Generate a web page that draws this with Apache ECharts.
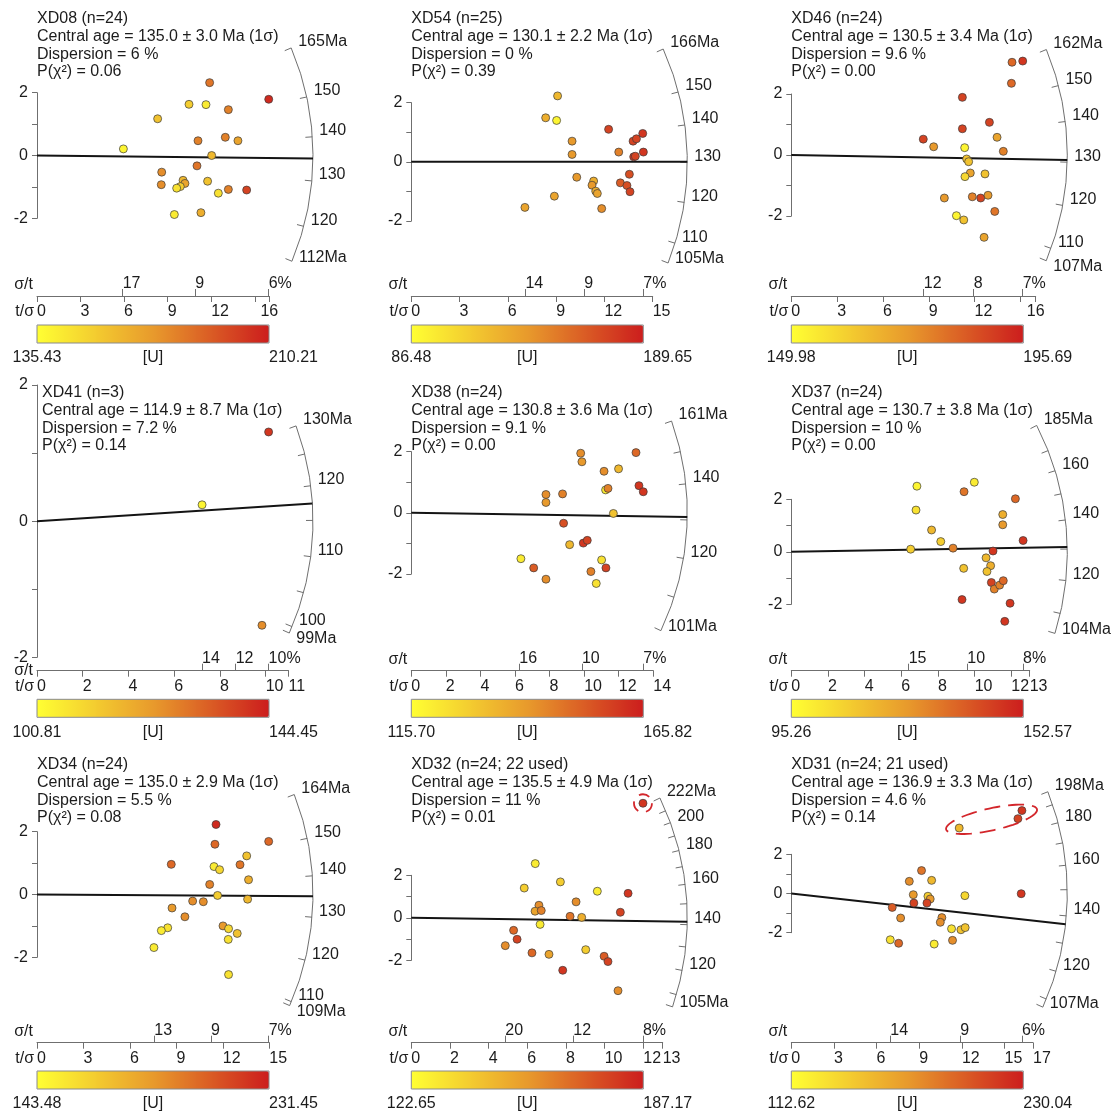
<!DOCTYPE html>
<html>
<head>
<meta charset="utf-8">
<title>Radial plots</title>
<script src="https://cdn.jsdelivr.net/npm/echarts@6.0.0/dist/echarts.min.js"></script>
<style>
  html, body { margin: 0; padding: 0; background: #fff; }
  #chart { width: 1113px; height: 1114px; }
</style>
</head>
<body>
<div id="chart"></div>
<script>
// samples in reading order (left to right, top to bottom)
const samples = ['XD08 (n=24)', 'XD54 (n=25)', 'XD46 (n=24)', 'XD41 (n=3)', 'XD38 (n=24)',
  'XD37 (n=24)', 'XD34 (n=24)', 'XD32 (n=24; 22 used)', 'XD31 (n=24; 21 used)'];
const centralAge = ['135.0', '130.1', '130.5', '114.9', '130.8', '130.7', '135.0', '135.5', '136.9'];
const centralErr = ['3.0', '2.2', '3.4', '8.7', '3.6', '3.8', '2.9', '4.9', '3.3'];
const dispersion = ['6', '0', '9.6', '7.2', '9.1', '10', '5.5', '11', '4.6'];
const pChi2 = ['0.06', '0.39', '0.00', '0.14', '0.00', '0.00', '0.08', '0.01', '0.14'];
const uMin = [135.43, 86.48, 149.98, 100.81, 115.70, 95.26, 143.48, 122.65, 112.62];
const uMax = [210.21, 189.65, 195.69, 144.45, 165.82, 152.57, 231.45, 187.17, 230.04];

// age arc (Ma)
const refAge = [135.68, 130.1, 131.7, 114.9, 131.9, 129.1, 135.4, 143.2, 148.5]; // age at z = 0
const lineAge = [135.0, 130.1, 130.5, 117.4, 130.8, 130.7, 135.0, 141.4, 136.9];
const arcMin = [112, 105, 107, 99, 101, 104, 109, 105, 107];
const arcMax = [165, 166, 162, 130, 161, 185, 164, 222, 198];
const arcTicks = [
  [120, 130, 140, 150],
  [110, 120, 130, 140, 150],
  [110, 120, 130, 140, 150],
  [100, 105, 110, 115, 120, 125],
  [110, 120, 130, 140, 150],
  [110, 120, 130, 140, 150, 160, 170],
  [110, 120, 130, 140, 150],
  [110, 120, 130, 140, 150, 160, 170, 180, 190, 200, 210],
  [110, 120, 130, 140, 150, 160, 170, 180, 190]
];
const arcLabels = [
  [120, 130, 140, 150],
  [110, 120, 130, 140, 150],
  [110, 120, 130, 140, 150],
  [100, 110, 120],
  [120, 140],
  [120, 140, 160],
  [110, 120, 130, 140, 150],
  [120, 140, 160, 180, 200],
  [120, 140, 160, 180]
];

// t/σ axis
const tsMax = [16, 15, 16, 11, 14, 13, 15, 13, 17];
const tsTicks = [
  [0, 3, 6, 9, 12, 15, 16], [0, 3, 6, 9, 12, 15], [0, 3, 6, 9, 12, 15, 16],
  [0, 2, 4, 6, 8, 10, 11], [0, 2, 4, 6, 8, 10, 12, 14], [0, 2, 4, 6, 8, 10, 12, 13],
  [0, 3, 6, 9, 12, 15], [0, 2, 4, 6, 8, 10, 12, 13], [0, 3, 6, 9, 12, 15, 17]
];
const tsLabels = [
  [0, 3, 6, 9, 12, 16], [0, 3, 6, 9, 12, 15], [0, 3, 6, 9, 12, 16],
  [0, 2, 4, 6, 8, 10, 11], [0, 2, 4, 6, 8, 10, 12, 14], [0, 2, 4, 6, 8, 10, 12, 13],
  [0, 3, 6, 9, 12, 15], [0, 2, 4, 6, 8, 10, 12, 13], [0, 3, 6, 9, 12, 15, 17]
];
// σ/t axis: [t/σ position, σ/t label]; the last tick sits at the largest t/σ
const stTicks = [
  [[5.9, '17'], [10.9, '9']],
  [[7.09, '14'], [10.75, '9']],
  [[8.67, '12'], [11.94, '8']],
  [[7.22, '14'], [8.69, '12']],
  [[6.25, '16'], [9.87, '10']],
  [[6.4, '15'], [9.6, '10']],
  [[7.57, '13'], [11.23, '9']],
  [[4.86, '20'], [8.38, '12']],
  [[6.96, '14'], [11.88, '9']]
];

// grains: [t/σ, standardised estimate z, position on the [U] colour bar (0 = min, 1 = max)]
const xd08 = [
  [5.95, 0.21, 0.05], [8.31, 1.17, 0.3], [10.47, 1.63, 0.25], [11.64, 1.62, 0.1],
  [11.89, 2.32, 0.65], [13.18, 1.46, 0.6], [15.96, 1.79, 0.95], [11.09, 0.47, 0.6],
  [12.97, 0.58, 0.6], [13.84, 0.47, 0.45], [12.03, 0.0, 0.35], [11.02, -0.33, 0.65],
  [8.59, -0.53, 0.55], [8.56, -0.93, 0.55], [10.06, -0.79, 0.35], [10.19, -0.89, 0.45],
  [9.87, -0.99, 0.25], [9.62, -1.04, 0.15], [11.75, -0.82, 0.3], [12.49, -1.2, 0.15],
  [13.18, -1.08, 0.6], [14.44, -1.1, 0.85], [9.46, -1.88, 0.1], [11.29, -1.82, 0.4]
];
const xd54 = [
  [9.09, 2.23, 0.35], [8.35, 1.49, 0.4], [9.03, 1.4, 0.05], [9.99, 0.7, 0.5],
  [9.99, 0.25, 0.5], [12.26, 1.1, 0.85], [12.89, 0.33, 0.6], [13.78, 0.7, 0.85],
  [13.99, 0.78, 0.85], [14.38, 0.96, 0.9], [13.82, 0.17, 0.9], [13.92, 0.19, 0.85],
  [14.42, 0.33, 0.9], [10.28, -0.52, 0.5], [11.33, -0.65, 0.4], [11.23, -0.79, 0.5],
  [11.46, -0.99, 0.4], [11.56, -1.07, 0.45], [11.83, -1.58, 0.55], [8.89, -1.16, 0.45],
  [7.06, -1.54, 0.45], [12.99, -0.71, 0.75], [13.55, -0.42, 0.8], [13.4, -0.8, 0.8],
  [13.59, -1.01, 0.85]
];
const xd46 = [
  [14.45, 3.04, 0.7], [15.15, 3.08, 0.9], [14.41, 2.35, 0.7], [11.2, 1.89, 0.85],
  [11.2, 0.86, 0.85], [12.97, 1.07, 0.85], [8.64, 0.52, 0.85], [9.32, 0.27, 0.5],
  [11.35, 0.24, 0.05], [13.47, 0.58, 0.45], [13.88, 0.12, 0.6], [11.48, -0.13, 0.3],
  [11.61, -0.22, 0.3], [11.72, -0.59, 0.45], [11.37, -0.71, 0.2], [12.68, -0.62, 0.3],
  [10.02, -1.41, 0.5], [11.85, -1.37, 0.6], [12.4, -1.41, 0.85], [12.88, -1.32, 0.5],
  [13.32, -1.85, 0.65], [10.81, -1.99, 0.05], [11.29, -2.13, 0.3], [12.62, -2.7, 0.45]
];
const xd41 = [
  [10.13, 1.31, 0.9], [7.22, 0.24, 0.05], [9.84, -1.53, 0.55]
];
const xd38 = [
  [9.8, 1.95, 0.55], [9.87, 1.67, 0.5], [13.0, 1.97, 0.7], [11.15, 1.36, 0.55],
  [11.99, 1.44, 0.35], [7.79, 0.6, 0.55], [7.79, 0.34, 0.5], [8.75, 0.62, 0.6],
  [11.24, 0.75, 0.1], [11.38, 0.8, 0.6], [13.17, 0.89, 0.9], [13.42, 0.69, 0.9],
  [11.69, -0.02, 0.3], [8.81, -0.34, 0.8], [9.16, -1.04, 0.35], [9.95, -0.99, 0.9],
  [10.18, -0.9, 0.85], [6.34, -1.5, 0.1], [7.08, -1.8, 0.75], [7.79, -2.17, 0.55],
  [11.01, -1.54, 0.15], [11.26, -1.8, 0.85], [10.39, -1.92, 0.6], [10.7, -2.31, 0.15]
];
const xd37 = [
  [6.85, 2.5, 0.05], [9.98, 2.65, 0.1], [9.42, 2.29, 0.65], [12.22, 2.02, 0.7],
  [6.8, 1.59, 0.15], [11.53, 1.42, 0.4], [11.53, 1.03, 0.5], [7.65, 0.83, 0.35],
  [8.15, 0.39, 0.25], [6.51, 0.1, 0.25], [8.82, 0.14, 0.6], [12.64, 0.43, 0.9],
  [11.0, 0.03, 0.9], [10.62, -0.23, 0.35], [10.87, -0.53, 0.4], [10.67, -0.75, 0.3],
  [9.4, -0.63, 0.3], [10.91, -1.17, 0.85], [11.07, -1.42, 0.6], [11.36, -1.27, 0.6],
  [11.56, -1.1, 0.7], [9.31, -1.82, 0.9], [11.93, -1.96, 0.9], [11.64, -2.65, 0.9]
];
const xd34 = [
  [11.56, 2.23, 0.95], [14.96, 1.69, 0.7], [11.49, 1.6, 0.7], [8.67, 0.96, 0.7],
  [13.54, 1.23, 0.3], [13.11, 0.95, 0.65], [11.43, 0.89, 0.1], [11.79, 0.79, 0.2],
  [13.66, 0.47, 0.4], [11.15, 0.32, 0.6], [11.66, -0.03, 0.25], [13.6, -0.15, 0.35],
  [10.05, -0.21, 0.55], [10.74, -0.23, 0.55], [8.72, -0.43, 0.5], [9.55, -0.71, 0.55],
  [12.01, -1.0, 0.5], [12.37, -1.09, 0.2], [12.93, -1.24, 0.3], [12.35, -1.43, 0.15],
  [8.44, -1.06, 0.15], [8.03, -1.15, 0.1], [7.55, -1.69, 0.1], [12.37, -2.55, 0.15]
];
const xd32 = [
  [11.98, 5.39, 0.9], [6.41, 2.55, 0.1], [7.71, 1.69, 0.25], [5.84, 1.4, 0.25],
  [9.62, 1.25, 0.1], [11.21, 1.15, 0.9], [8.52, 0.75, 0.55], [6.6, 0.59, 0.55],
  [6.4, 0.31, 0.45], [6.72, 0.34, 0.6], [8.21, 0.07, 0.65], [8.81, 0.02, 0.4],
  [10.81, 0.26, 0.85], [6.66, -0.31, 0.1], [5.29, -0.59, 0.7], [5.47, -1.01, 0.85],
  [4.86, -1.31, 0.55], [6.24, -1.65, 0.7], [7.12, -1.72, 0.45], [9.02, -1.5, 0.25],
  [9.97, -1.81, 0.75], [10.17, -2.06, 0.85], [7.83, -2.47, 0.9], [10.69, -3.43, 0.55]
];
const xd31 = [
  [16.22, 4.23, 0.9], [15.94, 3.82, 0.85], [11.81, 3.34, 0.35], [9.16, 1.17, 0.65],
  [8.3, 0.62, 0.55], [9.87, 0.67, 0.35], [8.58, -0.06, 0.5], [9.61, -0.14, 0.25],
  [9.77, -0.28, 0.5], [8.62, -0.49, 0.85], [9.54, -0.49, 0.85], [12.21, -0.11, 0.2],
  [16.17, -0.01, 0.9], [7.1, -0.71, 0.75], [7.69, -1.25, 0.55], [10.59, -1.23, 0.55],
  [10.48, -1.47, 0.55], [11.27, -1.8, 0.15], [11.93, -1.85, 0.3], [12.23, -1.74, 0.3],
  [6.96, -2.36, 0.15], [7.55, -2.54, 0.7], [10.05, -2.58, 0.1], [11.34, -2.39, 0.55]
];
const grains = [xd08, xd54, xd46, xd41, xd38, xd37, xd34, xd32, xd31];
// grains inside the dashed red outline
const ringed = [[], [], [], [], [], [], [], [0], [0, 1, 2]];

// ---- layout (pixels) ----
const colX = [37, 411.3, 791.3];
const rowAxisY = [296, 670.7, 1042.7];
const rowBarTop = [325, 699.3, 1071];
const rowTitleTop = [10, 384, 756];
const plotTop = [92.7, 102.7, 94, 385, 451.7, 499.3, 831.7, 875.3, 854.3];
const plotHeight = [125.6, 118.3, 122, 272.3, 122.3, 105, 125.6, 85, 78.4];
const plotWidth = [232.3, 241.4, 244.4, 251.5, 242, 238.4, 232.3, 251.4, 241.7];
const titleDx = [0, 0, 0, 5, 0, 0, 0, 0, 0];
const endLabelCentered = [true, false, true, false, false, false, false, false, false];
const stNameOnLine = [false, false, false, true, false, false, false, false, false];
const ARC_R = 276;
const BAR_W = 232, BAR_H = 18;

const FONT = "'Liberation Sans', Arial, Helvetica, sans-serif";
const TEXT = '#1c1c1c';
const AXIS = '#6f6f6f';
const RAMP = ['#ffff33', '#e89a2c', '#cc1d1d'];

function arcRenderer(i) {
  return function (params, api) {
    const o = api.coord([0, 0]);
    const unit = api.size([1, 1]);
    const f = unit[1] / unit[0];
    const angle = t => Math.atan(f * Math.log(t / refAge[i]));
    const at = (t, r) => [o[0] + r * Math.cos(angle(t)), o[1] - r * Math.sin(angle(t))];
    const kids = [{
      type: 'arc',
      shape: { cx: o[0], cy: o[1], r: ARC_R, startAngle: -angle(arcMax[i]), endAngle: -angle(arcMin[i]), clockwise: true },
      style: { stroke: AXIS, lineWidth: 1, fill: null }
    }];
    [arcMin[i]].concat(arcTicks[i], [arcMax[i]]).forEach(t => {
      const p = at(t, ARC_R), q = at(t, ARC_R - 7);
      kids.push({ type: 'line', shape: { x1: p[0], y1: p[1], x2: q[0], y2: q[1] }, style: { stroke: AXIS, lineWidth: 1 } });
    });
    const label = (t, txt, dy) => {
      const p = at(t, ARC_R);
      kids.push({
        type: 'text', x: p[0] + 7, y: p[1] + dy,
        style: { text: txt, fill: TEXT, fontSize: 16, fontFamily: FONT, align: 'left', verticalAlign: 'middle' }
      });
    };
    arcLabels[i].forEach(t => label(t, String(t), -6));
    label(arcMax[i], arcMax[i] + 'Ma', -6);
    // the lower end label drops below the arc end when a number label sits just above it
    const lowEnd = at(arcMin[i], ARC_R);
    const crowded = arcLabels[i].some(t => {
      const p = at(t, ARC_R);
      return Math.hypot(p[0] - lowEnd[0], p[1] - lowEnd[1]) < 20;
    });
    label(arcMin[i], arcMin[i] + 'Ma', crowded ? 6 : -4);
    const e = at(lineAge[i], ARC_R);
    kids.push({ type: 'line', shape: { x1: o[0], y1: o[1], x2: e[0], y2: e[1] }, style: { stroke: '#141414', lineWidth: 2 } });
    return { type: 'group', children: kids };
  };
}

function ringRenderer(i) {
  return function (params, api) {
    const pts = ringed[i].map(k => api.coord([grains[i][k][0], grains[i][k][1]]));
    const style = { stroke: '#d3262b', lineWidth: 1.8, fill: null, lineDash: [11, 8] };
    if (pts.length === 1) {
      return { type: 'circle', shape: { cx: pts[0][0], cy: pts[0][1], r: 9 }, style };
    }
    pts.sort((a, b) => a[0] - b[0]);
    const a = pts[0], b = pts[pts.length - 1];
    const cx = (a[0] + b[0]) / 2 + 1, cy = (a[1] + b[1]) / 2;
    const rot = Math.atan2(b[1] - a[1], b[0] - a[0]) * 0.8;
    const rx = Math.hypot(b[0] - a[0], b[1] - a[1]) / 2 + 14, ry = 11;
    const outline = [];
    for (let k = 0; k < 72; k++) {
      const s = k / 72 * 2 * Math.PI;
      const ex = rx * Math.cos(s), ey = ry * Math.sin(s);
      outline.push([cx + ex * Math.cos(rot) - ey * Math.sin(rot), cy + ex * Math.sin(rot) + ey * Math.cos(rot)]);
    }
    return { type: 'polygon', shape: { points: outline }, style: Object.assign({}, style, { lineDash: [16, 8] }) };
  };
}

const grid = [], xAxis = [], yAxis = [], series = [], visualMap = [], title = [];
const labelStyle = { fontSize: 16, fontFamily: FONT, color: TEXT };

for (let i = 0; i < 9; i++) {
  const col = i % 3, row = Math.floor(i / 3);
  const left = colX[col];
  const g = grid.length;
  grid.push({ left, top: plotTop[i], width: plotWidth[i], height: plotHeight[i], outerBoundsMode: 'none' });
  grid.push({
    left, top: rowBarTop[row], width: BAR_W, height: BAR_H, outerBoundsMode: 'none',
    show: true, z: 6, backgroundColor: 'transparent', borderColor: '#8a8a8a', borderWidth: 1
  });
  const offset = rowAxisY[row] - (plotTop[i] + plotHeight[i]);
  const maxX = Math.max.apply(null, grains[i].map(d => d[0]));
  const stPos = stTicks[i].map(d => d[0]).concat([maxX]);
  const stText = stTicks[i].map(d => d[1]).concat([Math.round(100 / maxX) + '%']);

  const xTs = xAxis.length;
  xAxis.push({
    gridIndex: g, type: 'value', min: 0, max: tsMax[i], position: 'bottom', offset,
    axisLine: { onZero: false, lineStyle: { color: AXIS, width: 1 } },
    axisTick: { customValues: tsTicks[i], length: 6, lineStyle: { color: AXIS } },
    axisLabel: Object.assign({
      customValues: tsLabels[i], align: 'left', margin: 8, hideOverlap: false,
      alignMaxLabel: endLabelCentered[i] ? 'center' : 'left'
    }, labelStyle),
    splitLine: { show: false },
    name: 't/σ', nameLocation: 'start', nameGap: 3, nameMoveOverlap: false,
    nameTextStyle: Object.assign({ align: 'right', verticalAlign: 'top', padding: [8, 0, 0, 0] }, labelStyle)
  });
  xAxis.push({
    gridIndex: g, type: 'value', min: 0, max: tsMax[i], position: 'bottom', offset,
    axisLine: { show: false, onZero: false },
    axisTick: { inside: true, customValues: stPos, length: 7, lineStyle: { color: AXIS } },
    axisLabel: Object.assign({
      inside: true, customValues: stPos, align: 'left', margin: 4, hideOverlap: false,
      formatter: v => {
        let k = 0;
        stPos.forEach((p, j) => { if (Math.abs(p - v) < Math.abs(stPos[k] - v)) k = j; });
        return stText[k];
      }
    }, labelStyle),
    splitLine: { show: false },
    name: 'σ/t', nameLocation: 'start', nameGap: 4, nameMoveOverlap: false,
    nameTextStyle: Object.assign(stNameOnLine[i]
      ? { align: 'right', verticalAlign: 'middle' }
      : { align: 'right', verticalAlign: 'bottom', padding: [0, 0, 3, 0] }, labelStyle)
  });
  xAxis.push({
    gridIndex: g + 1, type: 'value', min: uMin[i], max: uMax[i], position: 'bottom',
    axisLine: { show: false }, axisTick: { show: false }, splitLine: { show: false },
    axisLabel: Object.assign({
      customValues: [uMin[i], uMax[i]], margin: 7, hideOverlap: false,
      alignMinLabel: 'center', alignMaxLabel: 'left', formatter: v => v.toFixed(2)
    }, labelStyle),
    name: '[U]', nameLocation: 'middle', nameGap: 7, nameMoveOverlap: false,
    nameTextStyle: Object.assign({ verticalAlign: 'top' }, labelStyle)
  });

  const yPlot = yAxis.length;
  yAxis.push({
    gridIndex: g, type: 'value', min: -2, max: 2, interval: 1, position: 'left',
    axisLine: { show: true, onZero: false, lineStyle: { color: AXIS, width: 1 } },
    axisTick: { show: true, length: 5, lineStyle: { color: AXIS } },
    axisLabel: Object.assign({ margin: 9, formatter: v => (v % 2 === 0 ? String(v) : '') }, labelStyle),
    splitLine: { show: false }
  });
  yAxis.push({ gridIndex: g + 1, type: 'value', min: 0, max: 1, show: false });

  series.push({
    type: 'custom', xAxisIndex: xTs, yAxisIndex: yPlot, data: [[0, 0]], clip: false,
    silent: true, z: 2, renderItem: arcRenderer(i)
  });
  const scatterIndex = series.length;
  series.push({
    type: 'scatter', xAxisIndex: xTs, yAxisIndex: yPlot, data: grains[i], clip: false,
    symbol: 'circle', symbolSize: 8, silent: true, z: 4,
    itemStyle: { borderColor: '#3b3b3b', borderWidth: 0.7, opacity: 1 }
  });
  if (ringed[i].length) {
    series.push({
      type: 'custom', xAxisIndex: xTs, yAxisIndex: yPlot, data: [[0, 0]], clip: false,
      silent: true, z: 5, renderItem: ringRenderer(i)
    });
  }

  visualMap.push({
    type: 'continuous', seriesIndex: scatterIndex, dimension: 2, min: 0, max: 1,
    orient: 'horizontal', left, top: rowBarTop[row], itemWidth: BAR_H, itemHeight: BAR_W,
    padding: 0, calculable: false, hoverLink: false, text: null, showLabel: false,
    inRange: { color: RAMP }
  });

  title.push({
    left: left + titleDx[i], top: rowTitleTop[row], padding: 0,
    text: samples[i] + '\nCentral age = ' + centralAge[i] + ' ± ' + centralErr[i] + ' Ma (1σ)' +
      '\nDispersion = ' + dispersion[i] + ' %\nP(χ²) = ' + pChi2[i],
    textStyle: { fontSize: 16, fontWeight: 'normal', fontFamily: FONT, color: TEXT, lineHeight: 17.7 }
  });
}

const chart = echarts.init(document.getElementById('chart'), null, { renderer: 'canvas' });
chart.setOption({
  animation: false,
  backgroundColor: '#ffffff',
  title, grid, xAxis, yAxis, visualMap, series
});
</script>
</body>
</html>
